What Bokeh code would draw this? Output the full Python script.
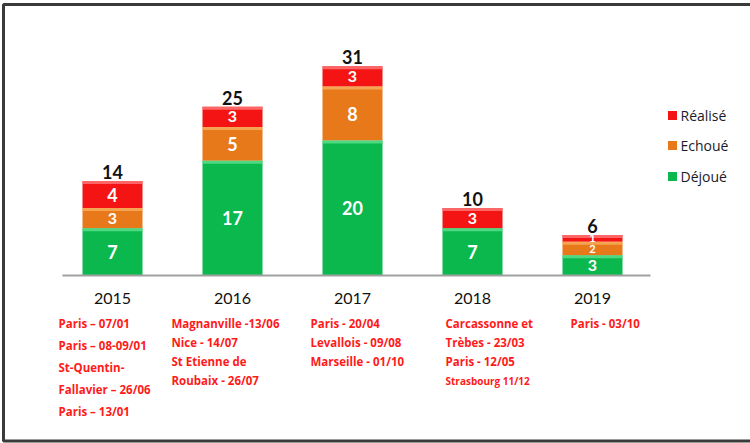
from bokeh.plotting import figure
from bokeh.models import Range1d, ColumnDataSource
from bokeh.core.properties import value
from bokeh.embed import file_html
from bokeh.resources import INLINE

# ---------------- data ----------------
years = ["2015", "2016", "2017", "2018", "2019"]
dejoue = [7, 17, 20, 7, 3]
echoue = [3, 5, 8, 0, 2]
realise = [4, 3, 3, 3, 1]
totals = [14, 25, 31, 10, 6]
series_names = ["Déjoué", "Echoué", "Réalisé"]
series_colors = ["#0BB84E", "#E8791A", "#F41414"]
gloss_colors = ["#5FE08E", "#F7B060", "#FF7A7A"]
notes = [
    ["Paris – 07/01", "Paris – 08-09/01", "St-Quentin-", "Fallavier – 26/06", "Paris – 13/01"],
    ["Magnanville -13/06", "Nice - 14/07", "St Etienne de", "Roubaix - 26/07"],
    ["Paris - 20/04", "Levallois - 09/08", "Marseille - 01/10"],
    ["Carcassonne et", "Trèbes - 23/03", "Paris - 12/05", "Strasbourg 11/12"],
    ["Paris - 03/10"],
]

# ---------------- layout (pixel frame mapping) ----------------
W, H = 750, 443
CX0, STEP = 112.0, 120.0      # pixel centre of first category, spacing
BASE, PXU = 275.0, 6.75       # baseline pixel row, pixels per unit

def px_x(px):
    return (px - CX0) / STEP

def px_y(py):
    return (BASE - py) / PXU

p = figure(width=W, height=H, output_backend="svg", toolbar_location=None,
           x_range=Range1d(px_x(0), px_x(W)), y_range=Range1d(px_y(H), px_y(0)),
           min_border=0, min_border_left=0, min_border_right=0,
           min_border_top=0, min_border_bottom=0)
p.xaxis.visible = False
p.yaxis.visible = False
p.grid.visible = False
p.outline_line_color = None
p.background_fill_color = "white"
p.border_fill_color = "white"

xs = list(range(len(years)))
src = ColumnDataSource(dict(x=xs, d=dejoue, e=echoue, r=realise))
p.vbar_stack(["d", "e", "r"], x="x", width=0.5, color=series_colors,
             line_color=None, source=src)

# gloss bands + segment labels
gx, gt, gb, gc = [], [], [], []
lx, ly, lt, ls = [], [], [], []
for i in xs:
    bottom = 0
    for s, vals in enumerate([dejoue, echoue, realise]):
        v = vals[i]
        if v > 0:
            top = bottom + v
            gx.append(i); gt.append(top); gb.append(top - 3 / PXU); gc.append(gloss_colors[s])
            lx.append(i); ly.append(bottom + v / 2.0); lt.append(str(v))
            seg_px = v * PXU
            ls.append("%dpx" % max(11, min(18, int(seg_px * 0.8))))
        bottom += v
p.quad(left=[g - 0.25 for g in gx], right=[g + 0.25 for g in gx], top=gt, bottom=gb,
       color=gc, line_color=None, alpha=0.8)
p.text(x=lx, y=ly, text=lt, text_font=value("Lato"), text_font_size=ls,
       text_font_style="bold", text_color="white", text_align="center",
       text_baseline="middle")

# totals
p.text(x=xs, y=[t + 2 / PXU for t in totals], text=[str(t) for t in totals],
       text_font=value("Lato"), text_font_size=value("18px"), text_font_style="bold",
       text_color="#111111", text_align="center", text_baseline="bottom")

# baseline
p.line(x=[px_x(62), px_x(650)], y=[0, 0], line_color="#A0A0A0", line_width=2)

# category labels
p.text(x=xs, y=[px_y(298)] * len(xs), text=years, text_font=value("Lato"),
       text_font_size=value("16px"), text_color="#111111", text_align="center",
       text_baseline="middle")

# notes under each year
note_dx = [-54, -61, -42, -27, -22]
nx, ny, nt, ns = [], [], [], []
for i, lines in enumerate(notes):
    spacing = 22 if i == 0 else 19
    for k, line in enumerate(lines):
        nx.append(px_x(CX0 + i * STEP + note_dx[i]))
        ny.append(px_y(323 + k * spacing))
        nt.append(line)
        ns.append("10px" if line.startswith("Strasbourg") else "11.5px")
p.text(x=nx, y=ny, text=nt, text_font=value("Open Sans"), text_font_size=ns,
       text_font_style="bold", text_color="#FF1A1A", text_align="left",
       text_baseline="middle")

# legend (top = Réalisé)
leg_y = [115, 145, 176]
leg_names = series_names[::-1]
leg_cols = series_colors[::-1]
p.rect(x=[px_x(672)] * 3, y=[px_y(v) for v in leg_y], width=9, height=9,
       width_units="screen", height_units="screen", color=leg_cols, line_color=None)
p.text(x=[px_x(680)] * 3, y=[px_y(v) for v in leg_y], text=leg_names,
       text_font=value("Open Sans"), text_font_size=value("14px"), text_color="#1a1a2a",
       text_align="left", text_baseline="middle")

# frame border (right side runs off canvas)
p.line(x=[px_x(760), px_x(3), px_x(3), px_x(760)],
       y=[px_y(4), px_y(4), px_y(440.5), px_y(440.5)],
       line_color="#3a3a3a", line_width=3)

open("out.html", "w").write(file_html(p, INLINE))
